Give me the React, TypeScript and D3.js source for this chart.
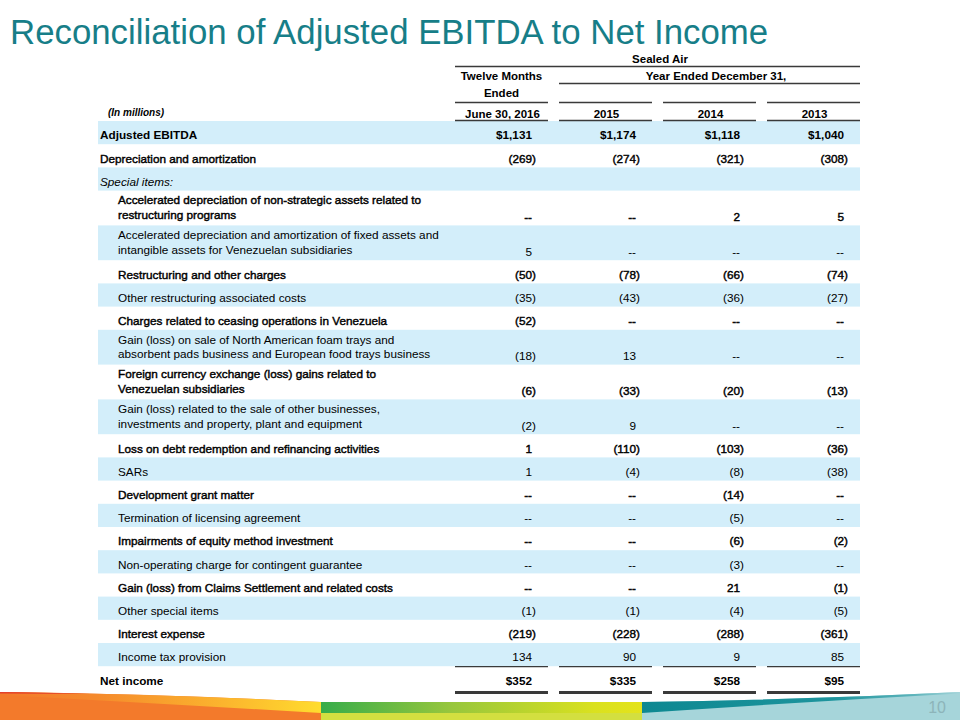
import React from "react";
import * as d3 from "d3";

// ---------- data ----------
const rowLabels: string[][] = [
  ["Adjusted EBITDA"],
  ["Depreciation and amortization"],
  ["Special items:"],
  ["Accelerated depreciation of non-strategic assets related to", "restructuring programs"],
  ["Accelerated depreciation and amortization of fixed assets and", "intangible assets for Venezuelan subsidiaries"],
  ["Restructuring and other charges"],
  ["Other restructuring associated costs"],
  ["Charges related to ceasing operations in Venezuela"],
  ["Gain (loss) on sale of North American foam trays and", "absorbent pads business and European food trays business"],
  ["Foreign currency exchange (loss) gains related to", "Venezuelan subsidiaries"],
  ["Gain (loss) related to the sale of other businesses,", "investments and property, plant and equipment"],
  ["Loss on debt redemption and refinancing activities"],
  ["SARs"],
  ["Development grant matter"],
  ["Termination of licensing agreement"],
  ["Impairments of equity method investment"],
  ["Non-operating charge for contingent guarantee"],
  ["Gain (loss) from Claims Settlement and related costs"],
  ["Other special items"],
  ["Interest expense"],
  ["Income tax provision"],
  ["Net income"],
];
const rowIndented: boolean[] = [
  false, false, false, true, true, true, true, true, true, true, true,
  true, true, true, true, true, true, true, true, true, true, false,
];
const rowWeight: string[] = [
  "bold", "semi", "italic", "semi", "normal", "semi", "normal", "semi", "normal", "semi", "normal",
  "semi", "normal", "semi", "normal", "semi", "normal", "semi", "normal", "semi", "normal", "bold",
];

const columnKeys = ["ttm", "y2015", "y2014", "y2013"];
const columnHeads = ["June 30, 2016", "2015", "2014", "2013"];

const ttmValues = ["$1,131", "(269)", "", "--", "5", "(50)", "(35)", "(52)", "(18)", "(6)", "(2)", "1", "1", "--", "--", "--", "--", "--", "(1)", "(219)", "134", "$352"];
const y2015Values = ["$1,174", "(274)", "", "--", "--", "(78)", "(43)", "--", "13", "(33)", "9", "(110)", "(4)", "--", "--", "--", "--", "--", "(1)", "(228)", "90", "$335"];
const y2014Values = ["$1,118", "(321)", "", "2", "--", "(66)", "(36)", "--", "--", "(20)", "--", "(103)", "(8)", "(14)", "(5)", "(6)", "(3)", "21", "(4)", "(288)", "9", "$258"];
const y2013Values = ["$1,040", "(308)", "", "5", "--", "(74)", "(27)", "--", "--", "(13)", "--", "(36)", "(38)", "--", "--", "(2)", "--", "(1)", "(5)", "(361)", "85", "$95"];

const columnValues = [ttmValues, y2015Values, y2014Values, y2013Values];

// ---------- layout ----------
const FONT = "'Liberation Sans', Arial, Helvetica, sans-serif";
const BLUE = "#D3EEFA";
const LINE = "#3a3a3a";

const units = rowLabels.map((l) => (l.length > 1 ? 1.5 : 1));
const starts: number[] = [];
units.reduce((acc, u) => {
  starts.push(acc);
  return acc + u;
}, 0);
const totalUnits = d3.sum(units);

const y = d3.scaleLinear().domain([0, totalUnits]).range([121, 121 + totalUnits * 23.2]);
const x = d3.scaleBand<string>().domain(columnKeys).range([455, 860]).paddingInner(0.106);

function textProps(w: string, base: number) {
  const p: any = { fontFamily: FONT, fontSize: base, fill: "#000" };
  if (w === "bold") p.fontWeight = "bold";
  if (w === "semi") {
    p.stroke = "#000";
    p.strokeWidth = 0.42;
  }
  if (w === "italic") p.fontStyle = "italic";
  return p;
}

export default function App() {
  const fs = 11.75;
  const bandLeft = 98;
  const bandRight = 860;
  const lastRow = rowLabels.length - 1;

  return (
    <svg
      width={960}
      height={720}
      viewBox="0 0 960 720"
      style={{ position: "absolute", left: 0, top: 0, background: "#fff" }}
    >
      <defs>
        <linearGradient id="gOrange" x1="0" x2="1" y1="0" y2="0">
          <stop offset="0" stopColor="#F37A2B" />
          <stop offset="0.3" stopColor="#F58A2C" />
          <stop offset="0.7" stopColor="#FBB52E" />
          <stop offset="1" stopColor="#FFDC2E" />
        </linearGradient>
        <linearGradient id="gGreen" x1="0" x2="1" y1="0" y2="0">
          <stop offset="0" stopColor="#36AC4A" />
          <stop offset="0.4" stopColor="#96C63D" />
          <stop offset="0.85" stopColor="#DAE11F" />
          <stop offset="1" stopColor="#E4E31B" />
        </linearGradient>
        <linearGradient id="gTeal" x1="0" x2="1" y1="0" y2="0">
          <stop offset="0" stopColor="#0D8891" />
          <stop offset="0.6" stopColor="#1E949D" />
          <stop offset="0.85" stopColor="#5BB3BA" />
          <stop offset="1" stopColor="#A6D5DA" />
        </linearGradient>
      </defs>

      {/* Title */}
      <text x={10} y={43.5} fontFamily={FONT} fontSize={34.8} fill="#177E88">
        Reconciliation of Adjusted EBITDA to Net Income
      </text>

      {/* Row bands */}
      {rowLabels.map((_, i) =>
        i % 2 === 0 ? (
          <rect
            key={"band" + i}
            x={bandLeft}
            y={y(starts[i])}
            width={bandRight - bandLeft}
            height={y(starts[i] + units[i]) - y(starts[i])}
            fill={BLUE}
          />
        ) : null
      )}

      {/* Header */}
      <text x={660} y={63} textAnchor="middle" fontFamily={FONT} fontSize={11.5} fontWeight="bold">
        Sealed Air
      </text>
      <line x1={455} x2={860} y1={66.5} y2={66.5} stroke={LINE} strokeWidth={1.5} />
      <text x={(x("ttm") as number) + x.bandwidth() / 2} y={80} textAnchor="middle" fontFamily={FONT} fontSize={11.5} fontWeight="bold">
        Twelve Months
      </text>
      <text x={(x("ttm") as number) + x.bandwidth() / 2} y={97} textAnchor="middle" fontFamily={FONT} fontSize={11.5} fontWeight="bold">
        Ended
      </text>
      <text x={716} y={80} textAnchor="middle" fontFamily={FONT} fontSize={11.5} fontWeight="bold">
        Year Ended December 31,
      </text>
      <line x1={x("y2015") as number} x2={860} y1={83.5} y2={83.5} stroke={LINE} strokeWidth={1.5} />
      <text x={108} y={115.5} fontFamily={FONT} fontSize={10} fontWeight="bold" fontStyle="italic">
        (In millions)
      </text>
      {columnKeys.map((k, j) => {
        const x0 = x(k) as number;
        const x1 = x0 + x.bandwidth();
        return (
          <g key={"head" + k}>
            <line x1={x0} x2={x1} y1={102.5} y2={102.5} stroke={LINE} strokeWidth={1.5} />
            <text x={(x0 + x1) / 2 + 1} y={117.5} textAnchor="middle" fontFamily={FONT} fontSize={11.5} fontWeight="bold">
              {columnHeads[j]}
            </text>
            <line x1={x0} x2={x1} y1={120.5} y2={120.5} stroke={LINE} strokeWidth={1.6} />
            <line x1={x0} x2={x1} y1={y(starts[lastRow]) + 0.5} y2={y(starts[lastRow]) + 0.5} stroke={LINE} strokeWidth={1.3} />
            <line x1={x0} x2={x1} y1={692.5} y2={692.5} stroke={LINE} strokeWidth={3} />
          </g>
        );
      })}

      {/* Row labels */}
      {rowLabels.map((lines, i) => {
        const bottom = y(starts[i] + units[i]);
        const lx = rowIndented[i] ? 118 : 100;
        const tp = textProps(rowWeight[i], fs);
        if (lines.length === 1) {
          return (
            <text key={"lab" + i} x={lx} y={bottom - 4.8} {...tp}>
              {lines[0]}
            </text>
          );
        }
        return (
          <g key={"lab" + i}>
            <text x={lx} y={bottom - 21} {...tp}>
              {lines[0]}
            </text>
            <text x={lx} y={bottom - 6.3} {...tp}>
              {lines[1]}
            </text>
          </g>
        );
      })}

      {/* Values */}
      {columnKeys.map((k, j) => {
        const parenRight = (x(k) as number) + x.bandwidth() - 12;
        return (
          <g key={"col" + k}>
            {columnValues[j].map((v, i) => {
              if (!v) return null;
              const bottom = y(starts[i] + units[i]);
              const vy = units[i] > 1 ? bottom - 4.3 : bottom - 4.8;
              const hasParen = v.endsWith(")");
              const w = rowWeight[i] === "italic" ? "normal" : rowWeight[i];
              return (
                <text
                  key={"v" + i}
                  x={hasParen ? parenRight : parenRight - 4}
                  y={vy}
                  textAnchor="end"
                  {...textProps(w, fs)}
                >
                  {v}
                </text>
              );
            })}
          </g>
        );
      })}

      {/* Footer decoration */}
      <path d="M0,692 Q160,694 321,702 L321,720 L0,720 Z" fill="#F37A2B" />
      <path d="M0,692 Q160,694 321,702 L321,713 Q150,703 0,695 Z" fill="url(#gOrange)" />
      <path d="M0,692 Q40,692.6 90,694 L0,693.6 Z" fill="#E3402A" />
      <rect x={321} y={702} width={321} height={11} fill="url(#gGreen)" />
      <rect x={321} y={713} width={321} height={7} fill="#D3DF40" />
      <path d="M642,702 Q800,700 960,692 L960,720 L642,720 Z" fill="#A6D5DA" />
      <path d="M642,702 Q800,700 960,692 L960,693.5 Q800,702 642,713 Z" fill="url(#gTeal)" />
      <text x={946} y={712.5} textAnchor="end" fontFamily={FONT} fontSize={16} fill="#8DB4B9">
        10
      </text>
    </svg>
  );
}
